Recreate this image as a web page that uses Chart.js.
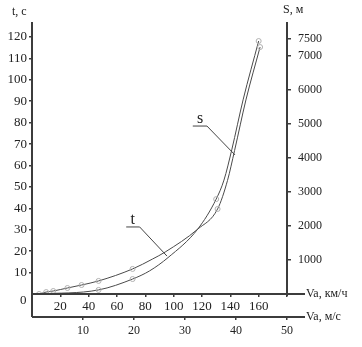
<!DOCTYPE html>
<html>
<head>
<meta charset="utf-8">
<script src="https://cdn.jsdelivr.net/npm/chart.js@4"></script>
<style>
  body { margin: 0; background: #fff; }
</style>
</head>
<body>
<canvas id="chart" width="362" height="347"></canvas>
<script>
// speed, km/h -> time, s (left axis)
const speedT = [5, 10, 15, 25, 35, 47, 71, 85, 94, 117, 131, 138, 143, 151, 161];
const timeS = [0, 0.9, 1.4, 2.8, 4.2, 6.1, 11.7, 16.3, 19.6, 30.3, 39.7, 53, 67, 90.6, 115.3];
const markT = [1, 1, 1, 1, 1, 1, 1, 0, 0, 0, 1, 0, 0, 0, 1];

// speed, km/h -> distance, m (right axis)
const speedS = [5, 47, 71, 83, 96, 117, 130, 135.5, 141, 149, 160];
const distM = [0, 120, 440, 680, 1070, 1910, 2790, 3350, 4240, 5710, 7440];
const markS = [0, 1, 1, 0, 0, 0, 1, 0, 0, 0, 1];

const kmhTicks = [20, 40, 60, 80, 100, 120, 140, 160, 180];
const msTicks = [10, 20, 30, 40, 50];
const tTicks = [10, 20, 30, 40, 50, 60, 70, 80, 90, 100, 110, 120];
const sTicks = [1000, 2000, 3000, 4000, 5000, 6000, 7000, 7500];

const serif = '"Liberation Serif", "DejaVu Serif", serif';
const axisColor = '#3c3c3c';
const textColor = '#222';

const axesAndLabels = {
  id: 'axesAndLabels',
  afterDraw(chart) {
    const c = chart.ctx;
    const a = chart.chartArea;
    const sx = chart.scales.x, sx2 = chart.scales.x2;
    const sy = chart.scales.y, sy1 = chart.scales.y1;
    const ms = sx2.top;
    c.save();
    c.strokeStyle = axisColor;
    c.lineWidth = 2;
    c.beginPath();
    c.moveTo(a.left, a.top); c.lineTo(a.left, ms);
    c.moveTo(a.right, a.top); c.lineTo(a.right, a.bottom + 2);
    c.moveTo(a.left, a.bottom); c.lineTo(a.right + 18, a.bottom);
    c.moveTo(a.left, ms); c.lineTo(a.right + 18, ms);
    c.stroke();

    c.fillStyle = textColor;
    c.font = '12px ' + serif;
    c.textBaseline = 'middle';
    c.textAlign = 'left';
    c.fillText('t, с', 12, 12);
    c.fillText('S, м', 283, 10);
    c.fillText('Va, км/ч', a.right + 19, a.bottom);
    c.fillText('Va, м/с', a.right + 19, ms);
    c.font = '13px ' + serif;
    c.fillText('0', 20, 301);

    // curve labels with leader lines
    c.strokeStyle = '#444';
    c.lineWidth = 1;
    c.beginPath();
    c.moveTo(sx.getPixelForValue(66.5), sy.getPixelForValue(31.3));
    c.lineTo(sx.getPixelForValue(76), sy.getPixelForValue(31.3));
    c.lineTo(sx.getPixelForValue(95.3), sy.getPixelForValue(17.7));
    c.moveTo(sx.getPixelForValue(113.5), sy1.getPixelForValue(4940));
    c.lineTo(sx.getPixelForValue(123.5), sy1.getPixelForValue(4940));
    c.lineTo(sx.getPixelForValue(143.3), sy1.getPixelForValue(4090));
    c.stroke();
    c.font = '16px ' + serif;
    c.textBaseline = 'alphabetic';
    c.fillText('t', sx.getPixelForValue(69.5), sy.getPixelForValue(32.6));
    c.fillText('s', sx.getPixelForValue(116.5), sy1.getPixelForValue(5030));
    c.restore();
  }
};

function tickOpts(size, pad) {
  return { color: textColor, font: { family: serif, size: size }, padding: pad, callback: v => String(v) };
}
const gridOpts = { drawOnChartArea: false, tickLength: 3, color: axisColor, lineWidth: 1.5 };

new Chart(document.getElementById('chart'), {
  type: 'line',
  data: {
    datasets: [{
      label: 't',
      data: speedT.map((v, i) => ({ x: v, y: timeS[i] })),
      yAxisID: 'y',
      pointRadius: markT.map(m => m ? 2.5 : 0)
    }, {
      label: 'S',
      data: speedS.map((v, i) => ({ x: v, y: distM[i] })),
      yAxisID: 'y1',
      pointRadius: markS.map(m => m ? 2.5 : 0)
    }].map(d => Object.assign(d, {
      borderColor: '#4a4a4a',
      borderWidth: 1,
      cubicInterpolationMode: 'monotone',
      pointBorderColor: '#b0b0b0',
      pointBackgroundColor: 'rgba(255,255,255,0)',
      pointBorderWidth: 1
    }))
  },
  options: {
    responsive: false,
    animation: false,
    layout: { padding: { top: 22, bottom: 6, left: 0, right: 0 } },
    plugins: { legend: { display: false }, tooltip: { enabled: false } },
    scales: {
      x: {
        type: 'linear', position: 'bottom', min: 0, max: 180, weight: 0,
        afterBuildTicks: s => { s.ticks = kmhTicks.map(v => ({ value: v })); },
        afterFit: s => { s.height = 23; },
        border: { display: false },
        grid: gridOpts,
        ticks: Object.assign(tickOpts(13, 2), { callback: v => v === 180 ? '' : String(v) })
      },
      x2: {
        type: 'linear', position: 'bottom', min: 0, max: 50, weight: 1,
        afterBuildTicks: s => { s.ticks = msTicks.map(v => ({ value: v })); },
        afterFit: s => { s.height = 24; },
        border: { display: false },
        grid: gridOpts,
        ticks: tickOpts(12, 4)
      },
      y: {
        position: 'left', min: 0, max: 127,
        afterBuildTicks: s => { s.ticks = tTicks.map(v => ({ value: v })); },
        afterFit: s => { s.width = 32; },
        border: { display: false },
        grid: gridOpts,
        ticks: tickOpts(13, 2)
      },
      y1: {
        position: 'right', min: 0, max: 8000,
        afterBuildTicks: s => { s.ticks = sTicks.map(v => ({ value: v })); },
        afterFit: s => { s.width = 75; },
        border: { display: false },
        grid: Object.assign({}, gridOpts, { tickLength: 4 }),
        ticks: tickOpts(12, 7)
      }
    }
  },
  plugins: [axesAndLabels]
});
</script>
</body>
</html>
